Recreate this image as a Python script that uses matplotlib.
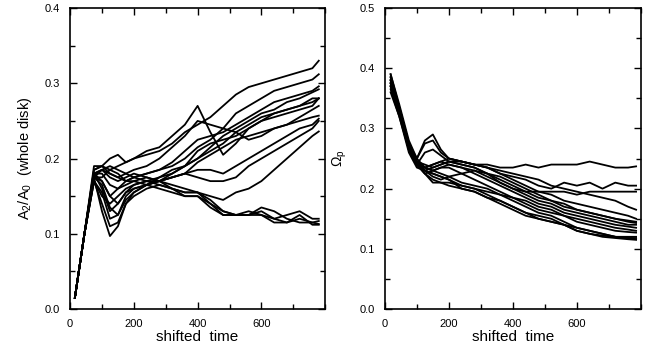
import numpy as np
import matplotlib
matplotlib.use('Agg')
import matplotlib.pyplot as plt
from matplotlib.ticker import MultipleLocator

plt.rcParams['font.family'] = ['Liberation Sans', 'DejaVu Sans']
plt.rcParams['mathtext.default'] = 'regular'

# left panel: A2/A0 (whole disk) vs shifted time
t_left = [15, 45, 75, 100, 125, 150, 175, 200, 240, 280, 320, 360, 400, 440, 480, 520, 560, 600, 640, 680, 720, 760, 780]
a2_curves = [
    [0.015, 0.10, 0.19, 0.19, 0.185, 0.19, 0.195, 0.20, 0.205, 0.21, 0.22, 0.235, 0.245, 0.255, 0.27, 0.285, 0.295, 0.30, 0.305, 0.31, 0.315, 0.32, 0.33],
    [0.015, 0.10, 0.185, 0.19, 0.20, 0.205, 0.195, 0.20, 0.21, 0.215, 0.23, 0.245, 0.27, 0.235, 0.205, 0.22, 0.24, 0.25, 0.26, 0.265, 0.27, 0.28, 0.28],
    [0.015, 0.10, 0.18, 0.185, 0.18, 0.175, 0.18, 0.185, 0.19, 0.20, 0.215, 0.23, 0.25, 0.245, 0.24, 0.26, 0.27, 0.28, 0.29, 0.295, 0.30, 0.305, 0.312],
    [0.015, 0.10, 0.18, 0.17, 0.15, 0.16, 0.17, 0.175, 0.18, 0.185, 0.195, 0.21, 0.225, 0.23, 0.235, 0.245, 0.255, 0.265, 0.275, 0.28, 0.285, 0.29, 0.296],
    [0.015, 0.10, 0.175, 0.185, 0.175, 0.17, 0.175, 0.18, 0.175, 0.17, 0.18, 0.19, 0.20, 0.215, 0.23, 0.24, 0.25, 0.26, 0.265, 0.275, 0.28, 0.288, 0.292],
    [0.015, 0.10, 0.18, 0.16, 0.13, 0.14, 0.155, 0.165, 0.17, 0.175, 0.18, 0.19, 0.21, 0.22, 0.225, 0.23, 0.24, 0.25, 0.255, 0.26, 0.265, 0.27, 0.28],
    [0.015, 0.10, 0.175, 0.175, 0.185, 0.18, 0.17, 0.175, 0.18, 0.185, 0.19, 0.20, 0.215, 0.225, 0.24, 0.235, 0.225, 0.23, 0.24, 0.245, 0.255, 0.265, 0.27],
    [0.015, 0.10, 0.175, 0.165, 0.135, 0.125, 0.15, 0.16, 0.165, 0.17, 0.175, 0.18, 0.195, 0.205, 0.215, 0.225, 0.23, 0.235, 0.24, 0.245, 0.25, 0.255, 0.257],
    [0.015, 0.10, 0.17, 0.155, 0.12, 0.125, 0.145, 0.155, 0.165, 0.17, 0.175, 0.18, 0.185, 0.185, 0.18, 0.19, 0.20, 0.21, 0.22, 0.23, 0.24, 0.245, 0.253],
    [0.015, 0.10, 0.17, 0.14, 0.11, 0.115, 0.14, 0.15, 0.16, 0.165, 0.16, 0.155, 0.155, 0.15, 0.145, 0.155, 0.16, 0.17, 0.185, 0.20, 0.215, 0.23, 0.236],
    [0.015, 0.10, 0.18, 0.18, 0.165, 0.16, 0.165, 0.17, 0.175, 0.17, 0.175, 0.18, 0.175, 0.17, 0.17, 0.175, 0.19, 0.20, 0.21, 0.22, 0.23, 0.24, 0.25],
    [0.015, 0.10, 0.175, 0.13, 0.097, 0.11, 0.14, 0.155, 0.165, 0.175, 0.185, 0.19, 0.20, 0.21, 0.22, 0.235, 0.245, 0.255, 0.26, 0.265, 0.27, 0.275, 0.28],
    [0.015, 0.10, 0.185, 0.19, 0.18, 0.175, 0.17, 0.17, 0.165, 0.16, 0.155, 0.15, 0.15, 0.14, 0.13, 0.125, 0.125, 0.13, 0.12, 0.125, 0.13, 0.12, 0.12],
    [0.015, 0.10, 0.18, 0.185, 0.19, 0.185, 0.18, 0.175, 0.17, 0.165, 0.16, 0.155, 0.155, 0.145, 0.13, 0.125, 0.125, 0.125, 0.12, 0.115, 0.12, 0.115, 0.117],
    [0.015, 0.10, 0.17, 0.15, 0.14, 0.15, 0.16, 0.165, 0.17, 0.17, 0.165, 0.16, 0.155, 0.14, 0.125, 0.125, 0.125, 0.135, 0.13, 0.12, 0.115, 0.115, 0.113],
    [0.015, 0.10, 0.175, 0.17, 0.15, 0.14, 0.155, 0.16, 0.165, 0.17, 0.16, 0.15, 0.15, 0.135, 0.125, 0.125, 0.13, 0.125, 0.115, 0.115, 0.125, 0.112, 0.112],
]

# right panel: pattern speed Omega_p vs shifted time
t_right = [18, 45, 75, 100, 125, 150, 175, 200, 240, 280, 320, 360, 400, 440, 480, 520, 560, 600, 640, 680, 720, 760, 785]
omega_curves = [
    [0.38, 0.33, 0.27, 0.245, 0.24, 0.235, 0.24, 0.245, 0.245, 0.24, 0.24, 0.235, 0.235, 0.24, 0.235, 0.24, 0.24, 0.24, 0.245, 0.24, 0.235, 0.235, 0.237],
    [0.39, 0.34, 0.28, 0.25, 0.28, 0.29, 0.265, 0.25, 0.245, 0.24, 0.235, 0.225, 0.22, 0.215, 0.205, 0.20, 0.21, 0.205, 0.21, 0.20, 0.21, 0.205, 0.205],
    [0.375, 0.33, 0.275, 0.245, 0.235, 0.23, 0.235, 0.24, 0.235, 0.23, 0.22, 0.21, 0.20, 0.195, 0.195, 0.195, 0.195, 0.19, 0.195, 0.195, 0.195, 0.195, 0.195],
    [0.37, 0.325, 0.27, 0.25, 0.275, 0.28, 0.26, 0.25, 0.245, 0.24, 0.235, 0.23, 0.225, 0.22, 0.215, 0.205, 0.20, 0.195, 0.19, 0.185, 0.18, 0.17, 0.165],
    [0.385, 0.335, 0.275, 0.245, 0.235, 0.24, 0.245, 0.25, 0.245, 0.24, 0.235, 0.225, 0.215, 0.205, 0.195, 0.19, 0.18, 0.175, 0.17, 0.165, 0.16, 0.155, 0.15],
    [0.38, 0.33, 0.27, 0.24, 0.26, 0.265, 0.255, 0.245, 0.24, 0.235, 0.225, 0.215, 0.205, 0.195, 0.185, 0.18, 0.17, 0.165, 0.16, 0.155, 0.15, 0.147, 0.145],
    [0.375, 0.33, 0.27, 0.245, 0.23, 0.235, 0.24, 0.245, 0.24, 0.235, 0.225, 0.21, 0.20, 0.19, 0.18, 0.175, 0.165, 0.16, 0.155, 0.15, 0.145, 0.14, 0.14],
    [0.37, 0.325, 0.265, 0.24, 0.235, 0.24, 0.245, 0.24, 0.235, 0.225, 0.215, 0.205, 0.195, 0.185, 0.175, 0.17, 0.16, 0.155, 0.15, 0.145, 0.14, 0.137, 0.135],
    [0.365, 0.32, 0.265, 0.24, 0.225, 0.23, 0.235, 0.235, 0.225, 0.215, 0.205, 0.195, 0.185, 0.175, 0.165, 0.16, 0.155, 0.145, 0.14, 0.135, 0.13, 0.128, 0.127],
    [0.36, 0.32, 0.26, 0.235, 0.23, 0.225, 0.22, 0.215, 0.205, 0.20, 0.19, 0.18, 0.17, 0.16, 0.15, 0.145, 0.14, 0.13, 0.125, 0.122, 0.12, 0.118, 0.118],
    [0.375, 0.33, 0.27, 0.24, 0.225, 0.21, 0.21, 0.205, 0.20, 0.195, 0.185, 0.175, 0.165, 0.155, 0.15, 0.145, 0.14, 0.13, 0.125, 0.12, 0.118, 0.116, 0.115],
    [0.38, 0.335, 0.275, 0.25, 0.235, 0.23, 0.225, 0.22, 0.21, 0.205, 0.20, 0.19, 0.18, 0.17, 0.16, 0.155, 0.145, 0.135, 0.13, 0.125, 0.12, 0.12, 0.12],
    [0.37, 0.325, 0.265, 0.24, 0.225, 0.215, 0.21, 0.21, 0.205, 0.20, 0.195, 0.19, 0.185, 0.18, 0.17, 0.165, 0.155, 0.15, 0.145, 0.14, 0.135, 0.132, 0.13],
    [0.385, 0.335, 0.275, 0.245, 0.23, 0.22, 0.215, 0.22, 0.225, 0.23, 0.225, 0.22, 0.21, 0.20, 0.19, 0.18, 0.175, 0.165, 0.16, 0.155, 0.15, 0.145, 0.143],
    [0.39, 0.335, 0.27, 0.24, 0.23, 0.225, 0.22, 0.215, 0.20, 0.195, 0.185, 0.18, 0.17, 0.16, 0.155, 0.15, 0.14, 0.135, 0.13, 0.125, 0.12, 0.118, 0.116],
]

fig = plt.figure(figsize=(6.49, 3.5), dpi=100)
ax1 = fig.add_axes([0.108, 0.117, 0.393, 0.860])
ax2 = fig.add_axes([0.593, 0.117, 0.3945, 0.860])

for y in a2_curves:
    ax1.plot(t_left, y, color='black', lw=1.3)
for y in omega_curves:
    ax2.plot(t_right, y, color='black', lw=1.3)

for ax, ymax in [(ax1, 0.4), (ax2, 0.5)]:
    ax.set_xlim(0, 800)
    ax.set_ylim(0, ymax)
    ax.xaxis.set_major_locator(MultipleLocator(200))
    ax.xaxis.set_minor_locator(MultipleLocator(100))
    ax.yaxis.set_major_locator(MultipleLocator(0.1))
    ax.yaxis.set_minor_locator(MultipleLocator(0.05))
    ax.set_xticks([0, 200, 400, 600])
    ax.set_yticklabels(['%.1f' % v for v in ax.get_yticks()])
    ax.tick_params(which='both', direction='in', top=True, right=True, labelsize=8, pad=7)
    ax.tick_params(which='major', length=5, width=1)
    ax.tick_params(which='minor', length=3.5, width=1)
    for s in ax.spines.values():
        s.set_linewidth(1.2)
    ax.set_xlabel('shifted  time', fontsize=11, labelpad=1)

ax1.set_ylabel('A$_2$/A$_0$  (whole disk)', fontsize=10.5, labelpad=8)
ax2.set_ylabel(r'$\Omega_p$', fontsize=10, labelpad=8)

fig.savefig('out.png', dpi=100)
